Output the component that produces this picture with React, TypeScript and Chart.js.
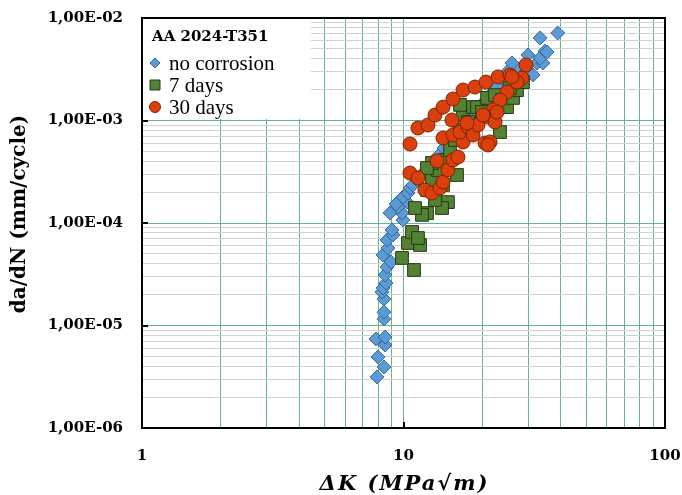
import React, { useEffect, useRef } from 'react';
import { Chart, registerables } from 'chart.js';

Chart.register(...registerables);

// ---------- data ----------
const seriesNames = ['no corrosion', '7 days', '30 days'];
const legendTitle = 'AA 2024-T351';
const xTitle = 'ΔK (MPa√m)';
const yTitle = 'da/dN (mm/cycle)';
const xTickValues = [1, 10, 100];
const xTickLabels = ['1', '10', '100'];
const yTickValues = [1e-6, 1e-5, 1e-4, 1e-3, 1e-2];
const yTickLabels = ['1,00E-06', '1,00E-05', '1,00E-04', '1,00E-03', '1,00E-02'];

const noCorrosionDK = [
  7.92, 8.42, 7.99, 8.5, 7.85, 8.5, 8.42, 8.42, 8.42, 8.27, 8.35, 8.57, 8.5, 8.65, 8.96,
  8.35, 8.72, 8.65, 9.12, 9.03, 9.95, 9.86, 8.88, 9.52, 9.36, 10.31, 9.95, 10.4, 10.59,
  10.87, 11.27, 11.78, 12.3, 12.85, 13.55, 14.29, 15.06, 15.88, 16.74, 17.65, 18.61,
  19.61, 20.68, 21.8, 22.8, 24.0, 24.9, 26.0, 28.0, 29.7, 31.3, 29.9, 32.4, 34.1, 33.3,
  34.8, 35.4, 33.3, 38.9,
];
const noCorrosionRate = [
  3.15e-6, 3.94e-6, 4.93e-6, 6.46e-6, 7.38e-6, 7.72e-6, 1.16e-5, 1.35e-5, 1.81e-5, 2.12e-5,
  2.32e-5, 2.6e-5, 3.11e-5, 3.72e-5, 4.17e-5, 4.88e-5, 5.7e-5, 6.82e-5, 7.64e-5, 8.55e-5,
  1.07e-4, 1.25e-4, 1.25e-4, 1.43e-4, 1.53e-4, 1.6e-4, 1.79e-4, 1.96e-4, 2.2e-4, 2.35e-4,
  2.63e-4, 3.01e-4, 3.44e-4, 3.94e-4, 4.51e-4, 5.4e-4, 6.17e-4, 7.22e-4, 8.45e-4, 1.01e-3,
  1.18e-3, 1.38e-3, 1.58e-3, 1.85e-3, 2.12e-3, 2.6e-3, 2.97e-3, 3.64e-3, 3.2e-3, 3.11e-3,
  2.78e-3, 4.36e-3, 3.64e-3, 3.64e-3, 4.07e-3, 4.76e-3, 4.66e-3, 6.39e-3, 7.14e-3,
];

const days7DK = [
  10.97, 9.87, 10.4, 11.57, 10.78, 11.36, 12.3, 11.77, 11.07, 14.79, 14.04, 13.2, 12.3,
  12.85, 13.55, 12.85, 12.3, 14.41, 15.06, 16.02, 15.73, 16.45, 16.89, 17.65, 16.45, 18.44,
  19.1, 20.87, 19.96, 23.39, 22.39, 23.81, 24.88, 26.23, 27.16, 28.64, 25.54, 14.16,
];
const days7Rate = [
  3.48e-5, 4.56e-5, 6.38e-5, 6.1e-5, 8.17e-5, 7.14e-5, 1.25e-4, 1.2e-4, 1.4e-4, 1.6e-4,
  1.4e-4, 1.68e-4, 2.1e-4, 2.63e-4, 3.29e-4, 3.85e-4, 3.44e-4, 4.12e-4, 5.16e-4, 2.94e-4,
  6.45e-4, 8.08e-4, 1.13e-3, 9.67e-4, 1.42e-3, 1.35e-3, 1.35e-3, 1.66e-3, 1.21e-3, 7.72e-4,
  1.77e-3, 1.58e-3, 1.35e-3, 1.66e-3, 1.98e-3, 2.37e-3, 2.07e-3, 2.35e-4,
];

const days30DK = [
  10.59, 11.36, 12.41, 13.2, 14.16, 15.46, 16.89, 18.77, 20.68, 22.99, 25.54, 28.39, 29.41,
  27.16, 26.0, 24.88, 23.39, 21.99, 10.59, 11.36, 12.08, 12.85, 13.79, 14.16, 14.79, 15.46,
  16.16, 13.43, 14.16, 15.46, 16.89, 16.45, 17.65, 18.44, 19.27, 21.05, 22.39, 20.5, 21.43,
  21.05, 17.49, 15.32, 20.14, 22.79,
];
const days30Rate = [
  5.9e-4, 8.45e-4, 9.04e-4, 1.13e-3, 1.35e-3, 1.62e-3, 1.98e-3, 2.12e-3, 2.37e-3, 2.66e-3,
  2.78e-3, 2.6e-3, 3.48e-3, 2.37e-3, 2.66e-3, 1.9e-3, 1.58e-3, 1.27e-3, 3.07e-4, 2.75e-4,
  2.1e-4, 1.96e-4, 2.2e-4, 2.51e-4, 3.29e-4, 4.12e-4, 4.4e-4, 4.03e-4, 6.75e-4, 7.22e-4,
  6.17e-4, 7.72e-4, 8.64e-4, 7.22e-4, 9.04e-4, 1.08e-3, 9.67e-4, 6.03e-4, 6.17e-4, 5.77e-4,
  9.45e-4, 1.01e-3, 1.13e-3, 1.21e-3,
];

// ---------- styles ----------
const GREEN_GRID = 'rgb(98,182,143)';
const GRAY_GRID = 'rgb(210,210,210)';
const BLUE_FILL = '#5b9bd5';
const BLUE_EDGE = '#3a6896';
const GREEN_FILL = '#548235';
const GREEN_EDGE = '#243a14';
const RED_FILL = '#da400e';
const RED_EDGE = '#7a2400';
const SERIF = '"DejaVu Serif", serif';

function isDecade(v: number) {
  const l = Math.log10(v);
  return Math.abs(l - Math.round(l)) < 1e-9;
}
function labelFor(v: number, values: number[], labels: string[]) {
  if (!isDecade(v)) return '';
  const i = values.findIndex((t) => Math.abs(Math.log10(t) - Math.log10(v)) < 1e-9);
  return i >= 0 ? labels[i] : '';
}
function logTicks(minExp: number, maxExp: number) {
  const t: { value: number }[] = [];
  for (let e = minExp; e < maxExp; e++) {
    for (let s = 1; s <= 9; s++) t.push({ value: parseFloat((s * Math.pow(10, e)).toPrecision(12)) });
  }
  t.push({ value: parseFloat(Math.pow(10, maxExp).toPrecision(12)) });
  return t;
}

function drawMarker(ctx: CanvasRenderingContext2D, kind: string, x: number, y: number, r: number, fill: string, edge: string) {
  ctx.save();
  ctx.beginPath();
  if (kind === 'rectRot') {
    ctx.moveTo(x - r, y);
    ctx.lineTo(x, y - r);
    ctx.lineTo(x + r, y);
    ctx.lineTo(x, y + r);
    ctx.closePath();
  } else if (kind === 'rect') {
    ctx.rect(x - r, y - r, 2 * r, 2 * r);
  } else {
    ctx.arc(x, y, r, 0, Math.PI * 2);
  }
  ctx.fillStyle = fill;
  ctx.fill();
  ctx.lineWidth = 1;
  ctx.strokeStyle = edge;
  ctx.stroke();
  ctx.restore();
}

const decorPlugin = {
  id: 'decor',
  beforeDatasetsDraw(chart: any) {
    const { ctx, chartArea } = chart;
    ctx.save();
    ctx.fillStyle = '#ffffff';
    ctx.fillRect(chartArea.left, chartArea.top, 169, 101);
    ctx.restore();
  },
  afterDraw(chart: any) {
    const { ctx, chartArea, scales } = chart;
    const { left, top, right, bottom } = chartArea;
    ctx.save();
    // frame
    ctx.strokeStyle = '#000';
    ctx.lineWidth = 2;
    ctx.strokeRect(left, top, right - left, bottom - top);
    // inner major tick marks
    ctx.lineWidth = 2;
    ctx.beginPath();
    yTickValues.forEach((v) => {
      const py = Math.round(scales.y.getPixelForValue(v));
      ctx.moveTo(left, py);
      ctx.lineTo(left + 6, py);
    });
    xTickValues.forEach((v) => {
      const px = Math.round(scales.x.getPixelForValue(v));
      ctx.moveTo(px, bottom);
      ctx.lineTo(px, bottom - 6);
    });
    ctx.stroke();

    // legend
    const lx = left + 13;
    ctx.fillStyle = '#000';
    ctx.textBaseline = 'middle';
    ctx.textAlign = 'left';
    ctx.font = `bold 15px ${SERIF}`;
    ctx.fillText(legendTitle, left + 10, top + 19);
    const rows = [
      { kind: 'rectRot', fill: BLUE_FILL, edge: BLUE_EDGE, r: 5 },
      { kind: 'rect', fill: GREEN_FILL, edge: GREEN_EDGE, r: 5 },
      { kind: 'circle', fill: RED_FILL, edge: RED_EDGE, r: 5.5 },
    ];
    ctx.font = `21px "Liberation Serif", serif`;
    rows.forEach((row, i) => {
      const cy = top + 45 + i * 22;
      drawMarker(ctx, row.kind, lx, cy, row.r, row.fill, row.edge);
      ctx.fillStyle = '#000';
      ctx.fillText(seriesNames[i], left + 27, cy + 1);
    });

    // axis titles
    ctx.fillStyle = '#000';
    ctx.textAlign = 'center';
    ctx.textBaseline = 'middle';
    ctx.font = `bold italic 21px ${SERIF}`;
    try {
      (ctx as any).letterSpacing = '2px';
    } catch (e) {
      /* ignore */
    }
    ctx.fillText(xTitle, (left + right) / 2 + 1, 485);
    try {
      (ctx as any).letterSpacing = '0px';
    } catch (e) {
      /* ignore */
    }
    ctx.translate(20, 214);
    ctx.rotate(-Math.PI / 2);
    ctx.font = `bold 20px ${SERIF}`;
    ctx.fillText(yTitle, 0, 0);
    ctx.restore();
  },
};

export default function App() {
  const canvasRef = useRef<HTMLCanvasElement | null>(null);

  useEffect(() => {
    document.body.style.margin = '0';
    const canvas = canvasRef.current;
    if (!canvas) return;
    const toPts = (xs: number[], ys: number[]) => xs.map((x, i) => ({ x, y: ys[i] }));
    const chart = new Chart(canvas, {
      type: 'scatter',
      data: {
        datasets: [
          {
            label: seriesNames[0],
            data: toPts(noCorrosionDK, noCorrosionRate),
            pointStyle: 'rectRot',
            pointRadius: 7,
            backgroundColor: BLUE_FILL,
            borderColor: BLUE_EDGE,
            borderWidth: 1,
            order: 3,
          },
          {
            label: seriesNames[1],
            data: toPts(days7DK, days7Rate),
            pointStyle: 'rect',
            pointRadius: 9,
            backgroundColor: GREEN_FILL,
            borderColor: GREEN_EDGE,
            borderWidth: 1,
            order: 2,
          },
          {
            label: seriesNames[2],
            data: toPts(days30DK, days30Rate),
            pointStyle: 'circle',
            pointRadius: 7,
            backgroundColor: RED_FILL,
            borderColor: RED_EDGE,
            borderWidth: 1,
            order: 1,
          },
        ],
      },
      options: {
        responsive: false,
        animation: false,
        devicePixelRatio: 1,
        layout: { padding: { top: 18, right: 17, left: 0, bottom: 0 } },
        plugins: { legend: { display: false }, tooltip: { enabled: false }, title: { display: false } },
        scales: {
          x: {
            type: 'logarithmic',
            min: 1,
            max: 100,
            afterBuildTicks: (scale: any) => {
              scale.ticks = logTicks(0, 2);
            },
            afterFit: (scale: any) => {
              scale.height = 67;
              scale.paddingLeft = 0;
              scale.paddingRight = 0;
            },
            grid: { color: GREEN_GRID, lineWidth: 1, drawTicks: false },
            border: { display: false },
            ticks: {
              autoSkip: false,
              maxRotation: 0,
              padding: 19,
              color: '#000',
              font: { family: SERIF, size: 15, weight: 'bold' },
              callback: (v: any) => labelFor(Number(v), xTickValues, xTickLabels),
            },
          },
          y: {
            type: 'logarithmic',
            min: 1e-6,
            max: 1e-2,
            afterBuildTicks: (scale: any) => {
              scale.ticks = logTicks(-6, -2);
            },
            afterFit: (scale: any) => {
              scale.width = 142;
              scale.paddingTop = 0;
              scale.paddingBottom = 0;
            },
            grid: {
              color: (c: any) => (c.tick && isDecade(c.tick.value) ? GREEN_GRID : GRAY_GRID),
              lineWidth: 1,
              drawTicks: false,
            },
            border: { display: false },
            ticks: {
              autoSkip: false,
              padding: 19,
              color: '#000',
              font: { family: SERIF, size: 15, weight: 'bold' },
              callback: (v: any) => labelFor(Number(v), yTickValues, yTickLabels),
            },
          },
        },
      },
      plugins: [decorPlugin],
    } as any);
    return () => chart.destroy();
  }, []);

  return (
    <div style={{ width: 682, height: 495, background: '#fff' }}>
      <canvas ref={canvasRef} width={682} height={495} style={{ display: 'block' }} />
    </div>
  );
}
